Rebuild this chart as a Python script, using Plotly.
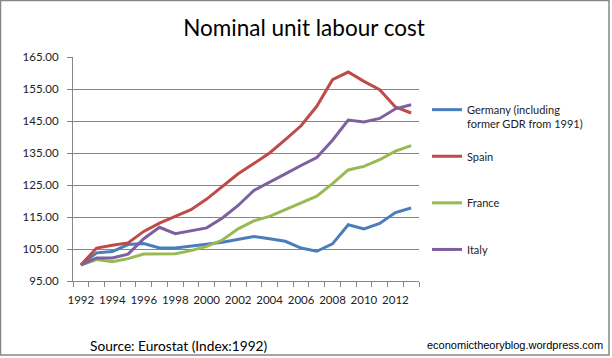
import plotly.graph_objects as go

years = list(range(1992, 2014))
germany = [100, 103.8, 104.2, 106.4, 106.7, 105.3, 105.3, 105.8, 106.5, 107.1, 107.9,
           108.9, 108.2, 107.4, 105.3, 104.3, 106.6, 112.6, 111.3, 113.0, 116.4, 117.8]
spain = [100, 105.3, 106.2, 106.9, 110.5, 113.1, 115.2, 117.3, 120.6, 124.5, 128.5,
         131.7, 135.0, 139.2, 143.5, 149.6, 157.9, 160.3, 157.4, 154.8, 149.4, 147.5]
france = [100, 101.7, 101.0, 102.0, 103.4, 103.4, 103.5, 104.5, 105.8, 107.8, 111.3,
          113.8, 115.2, 117.3, 119.4, 121.5, 125.4, 129.7, 130.8, 132.9, 135.6, 137.3]
italy = [100, 102.2, 102.2, 103.4, 108.2, 111.8, 109.8, 110.8, 111.6, 114.7, 118.6,
         123.3, 125.8, 128.5, 131.1, 133.6, 139.0, 145.3, 144.7, 145.8, 148.8, 150.1]

series = [
    ("Germany (including<br>former GDR from 1991)", germany, "#4A7EBB"),
    ("Spain<br>&#160;", spain, "#BE4B48"),
    ("France<br>&#160;", france, "#98B954"),
    ("Italy<br>&#160;", italy, "#7D60A0"),
]

y_ticks = [95, 105, 115, 125, 135, 145, 155, 165]
x_label_years = list(range(1992, 2013, 2))

fig = go.Figure()
for i, (name, vals, col) in enumerate(series):
    fig.add_trace(go.Scatter(x=years, y=vals, mode="lines", name=name,
                             legendgroup=f"g{i}",
                             line=dict(color=col, width=3)))

W, H = 612, 358
L, R, T, B = 73, 193, 57, 77
pw, ph = W - L - R, H - T - B

def px(x):
    return (x - L) / pw

def py(y):
    return (H - B - y) / ph

font_main = "Lato, 'Open Sans', sans-serif"
grey = "#868686"

fig.update_layout(
    width=W, height=H,
    margin=dict(l=L, r=R, t=T, b=B),
    paper_bgcolor="white", plot_bgcolor="white",
    showlegend=True,
    legend=dict(x=px(427), y=py(96), xanchor="left", yanchor="top",
                font=dict(family=font_main, size=11, color="#222222"),
                valign="top", tracegroupgap=15, bgcolor="rgba(0,0,0,0)"),
    title=dict(text="Nominal unit labour cost", x=304 / W, xanchor="center",
               y=1 - 28 / H, yanchor="middle",
               font=dict(family=font_main, size=22.5, color="#000000")),
    xaxis=dict(range=[1991.5, 2013.5], tickmode="array", tickvals=x_label_years,
               ticktext=[str(v) for v in x_label_years], ticks="",
               ticklabelstandoff=8,
               showgrid=False, zeroline=False, showline=True, linecolor=grey,
               linewidth=1,
               tickfont=dict(family=font_main, size=11.5, color="#222222"),
               minor=dict(tickmode="array",
                          tickvals=[y - 0.5 for y in range(1992, 2015)],
                          ticks="outside", ticklen=5, tickcolor=grey,
                          showgrid=False)),
    yaxis=dict(range=[95, 165], tickmode="array", tickvals=y_ticks,
               tickformat=".2f", ticks="outside", ticklen=5, tickcolor=grey,
               ticklabelstandoff=6,
               showgrid=True, gridcolor=grey, gridwidth=1, zeroline=False,
               showline=True, linecolor=grey, linewidth=1,
               tickfont=dict(family=font_main, size=11.5, color="#222222")),
)

fig.add_annotation(text="Source: Eurostat (Index:1992)", xref="paper", yref="paper",
                   x=px(88), y=py(345), xanchor="left", yanchor="middle",
                   showarrow=False,
                   font=dict(family=font_main, size=13.7, color="#000000"))
fig.add_annotation(text="economictheoryblog.wordpress.com", xref="paper", yref="paper",
                   x=px(605), y=py(345), xanchor="right", yanchor="middle",
                   showarrow=False,
                   font=dict(family="Liberation Sans, Arial, sans-serif", size=11,
                             color="#000000"))

fig.add_shape(type="rect", xref="paper", yref="paper",
              x0=px(0.5), x1=px(609), y0=py(355), y1=py(0.5),
              line=dict(color=grey, width=1.5), fillcolor="rgba(0,0,0,0)")

fig.write_html("out.html",
               config={"displayModeBar": False},
               post_script="document.body.style.margin='0';"
                           "document.body.style.overflow='hidden';")
